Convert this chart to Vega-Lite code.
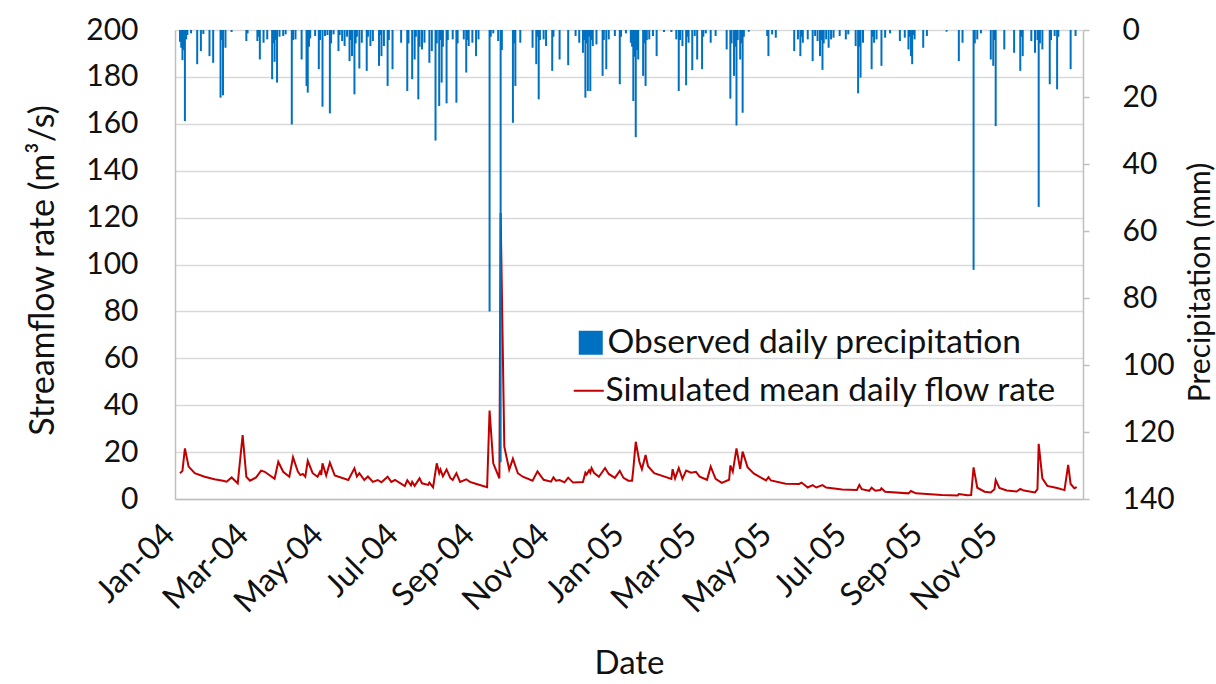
{
  "$schema": "https://vega.github.io/schema/vega-lite/v6.json",
  "width": 908,
  "height": 469,
  "autosize": {"type": "none"},
  "padding": {"left": 175, "top": 30, "right": 133, "bottom": 185},
  "background": "white",
  "config": {
    "font": "Lato",
    "view": {"stroke": null},
    "axis": {
      "labelFont": "Lato",
      "titleFont": "Lato",
      "labelFontSize": 30,
      "titleFontSize": 33,
      "labelColor": "#111111",
      "titleColor": "#111111",
      "titleFontWeight": "normal",
      "domainColor": "#bfbfbf",
      "domainWidth": 1.5,
      "tickColor": "#bfbfbf",
      "gridColor": "#d9d9d9",
      "gridWidth": 1.5
    },
    "legend": {
      "labelFont": "Lato",
      "labelFontSize": 33.5,
      "labelColor": "#111111",
      "padding": 0,
      "labelLimit": 700
    }
  },
  "datasets": {
    "flow": [
      {"date": "2004-01-01", "flow": 11}, {"date": "2004-01-03", "flow": 12}, {"date": "2004-01-05", "flow": 21.6},
      {"date": "2004-01-08", "flow": 13.8}, {"date": "2004-01-13", "flow": 11}, {"date": "2004-01-21", "flow": 9.5},
      {"date": "2004-01-29", "flow": 8.4}, {"date": "2004-02-05", "flow": 7.8}, {"date": "2004-02-08", "flow": 7.4},
      {"date": "2004-02-12", "flow": 9.2}, {"date": "2004-02-17", "flow": 6.7}, {"date": "2004-02-21", "flow": 27.3},
      {"date": "2004-02-24", "flow": 9.5}, {"date": "2004-02-27", "flow": 7.8}, {"date": "2004-03-03", "flow": 9.2},
      {"date": "2004-03-07", "flow": 12.1}, {"date": "2004-03-10", "flow": 11.6}, {"date": "2004-03-18", "flow": 8.6},
      {"date": "2004-03-21", "flow": 15.9}, {"date": "2004-03-25", "flow": 11.6}, {"date": "2004-03-30", "flow": 9.5},
      {"date": "2004-04-02", "flow": 17.8}, {"date": "2004-04-06", "flow": 11.6}, {"date": "2004-04-08", "flow": 10.2},
      {"date": "2004-04-10", "flow": 10.7}, {"date": "2004-04-12", "flow": 9.5}, {"date": "2004-04-14", "flow": 16.3},
      {"date": "2004-04-18", "flow": 11}, {"date": "2004-04-22", "flow": 9.5}, {"date": "2004-04-24", "flow": 11.6},
      {"date": "2004-04-25", "flow": 10.3}, {"date": "2004-04-26", "flow": 15.2}, {"date": "2004-04-29", "flow": 10},
      {"date": "2004-05-02", "flow": 15.5}, {"date": "2004-05-06", "flow": 10}, {"date": "2004-05-17", "flow": 8.1},
      {"date": "2004-05-22", "flow": 13.1}, {"date": "2004-05-24", "flow": 9.6}, {"date": "2004-05-26", "flow": 11},
      {"date": "2004-05-30", "flow": 8.1}, {"date": "2004-06-02", "flow": 9.6}, {"date": "2004-06-06", "flow": 7.3},
      {"date": "2004-06-10", "flow": 8.1}, {"date": "2004-06-13", "flow": 7.1}, {"date": "2004-06-18", "flow": 9.5},
      {"date": "2004-06-21", "flow": 7.3}, {"date": "2004-06-24", "flow": 8.1}, {"date": "2004-07-02", "flow": 5.5},
      {"date": "2004-07-04", "flow": 8}, {"date": "2004-07-07", "flow": 5.8}, {"date": "2004-07-08", "flow": 7.3},
      {"date": "2004-07-10", "flow": 5.6}, {"date": "2004-07-14", "flow": 8.8}, {"date": "2004-07-16", "flow": 6.7},
      {"date": "2004-07-21", "flow": 6}, {"date": "2004-07-22", "flow": 7}, {"date": "2004-07-25", "flow": 5},
      {"date": "2004-07-28", "flow": 15.2}, {"date": "2004-07-30", "flow": 11}, {"date": "2004-07-31", "flow": 12.6},
      {"date": "2004-08-02", "flow": 9.7}, {"date": "2004-08-05", "flow": 12.6}, {"date": "2004-08-08", "flow": 9},
      {"date": "2004-08-10", "flow": 8.1}, {"date": "2004-08-13", "flow": 11}, {"date": "2004-08-16", "flow": 7.3},
      {"date": "2004-08-21", "flow": 8.4}, {"date": "2004-08-24", "flow": 7.3}, {"date": "2004-08-30", "flow": 6.3},
      {"date": "2004-09-07", "flow": 5}, {"date": "2004-09-09", "flow": 37.7}, {"date": "2004-09-12", "flow": 15.2},
      {"date": "2004-09-17", "flow": 8.8}, {"date": "2004-09-18", "flow": 122}, {"date": "2004-09-21", "flow": 22.3},
      {"date": "2004-09-25", "flow": 12.5}, {"date": "2004-09-28", "flow": 17.2}, {"date": "2004-10-02", "flow": 11},
      {"date": "2004-10-06", "flow": 9.5}, {"date": "2004-10-14", "flow": 7.8}, {"date": "2004-10-18", "flow": 11.8},
      {"date": "2004-10-23", "flow": 8.2}, {"date": "2004-10-29", "flow": 7.4}, {"date": "2004-10-31", "flow": 9.2},
      {"date": "2004-11-02", "flow": 7.8}, {"date": "2004-11-05", "flow": 8.1}, {"date": "2004-11-09", "flow": 7.1},
      {"date": "2004-11-12", "flow": 9.1}, {"date": "2004-11-16", "flow": 7}, {"date": "2004-11-24", "flow": 7.2},
      {"date": "2004-11-26", "flow": 11.2}, {"date": "2004-11-27", "flow": 10.4}, {"date": "2004-11-29", "flow": 12.2},
      {"date": "2004-11-30", "flow": 11.2}, {"date": "2004-12-01", "flow": 13.2}, {"date": "2004-12-03", "flow": 11.2},
      {"date": "2004-12-07", "flow": 9.5}, {"date": "2004-12-12", "flow": 13.2}, {"date": "2004-12-15", "flow": 10.7},
      {"date": "2004-12-20", "flow": 9}, {"date": "2004-12-24", "flow": 12}, {"date": "2004-12-27", "flow": 9},
      {"date": "2004-12-31", "flow": 7.8}, {"date": "2005-01-03", "flow": 7.8}, {"date": "2005-01-04", "flow": 12.7},
      {"date": "2005-01-06", "flow": 24.4}, {"date": "2005-01-09", "flow": 15.8}, {"date": "2005-01-11", "flow": 12.7},
      {"date": "2005-01-14", "flow": 18.8}, {"date": "2005-01-16", "flow": 14}, {"date": "2005-01-21", "flow": 11},
      {"date": "2005-02-04", "flow": 8.6}, {"date": "2005-02-05", "flow": 12.7}, {"date": "2005-02-07", "flow": 8.8},
      {"date": "2005-02-10", "flow": 13.2}, {"date": "2005-02-13", "flow": 8.6}, {"date": "2005-02-16", "flow": 12.1},
      {"date": "2005-02-20", "flow": 11.2}, {"date": "2005-02-24", "flow": 11.6}, {"date": "2005-02-27", "flow": 9.5},
      {"date": "2005-03-05", "flow": 8.2}, {"date": "2005-03-08", "flow": 13.8}, {"date": "2005-03-12", "flow": 8.6},
      {"date": "2005-03-17", "flow": 6.9}, {"date": "2005-03-23", "flow": 8.2}, {"date": "2005-03-24", "flow": 14.3},
      {"date": "2005-03-26", "flow": 11.6}, {"date": "2005-03-29", "flow": 21.6}, {"date": "2005-04-01", "flow": 12.8},
      {"date": "2005-04-03", "flow": 20.2}, {"date": "2005-04-07", "flow": 13.6}, {"date": "2005-04-12", "flow": 10.9},
      {"date": "2005-04-22", "flow": 7.9}, {"date": "2005-04-24", "flow": 9.3}, {"date": "2005-04-26", "flow": 7.9},
      {"date": "2005-05-08", "flow": 6.5}, {"date": "2005-05-19", "flow": 6.4}, {"date": "2005-05-21", "flow": 7},
      {"date": "2005-05-26", "flow": 4.9}, {"date": "2005-05-30", "flow": 5.9}, {"date": "2005-06-02", "flow": 4.9},
      {"date": "2005-06-07", "flow": 5.9}, {"date": "2005-06-10", "flow": 4.9}, {"date": "2005-06-23", "flow": 4.1},
      {"date": "2005-07-05", "flow": 3.8}, {"date": "2005-07-07", "flow": 6}, {"date": "2005-07-09", "flow": 4.2},
      {"date": "2005-07-15", "flow": 3.5}, {"date": "2005-07-17", "flow": 4.8}, {"date": "2005-07-20", "flow": 3.5},
      {"date": "2005-07-24", "flow": 3.8}, {"date": "2005-07-25", "flow": 4.6}, {"date": "2005-07-28", "flow": 3.1},
      {"date": "2005-08-16", "flow": 2.4}, {"date": "2005-08-18", "flow": 3.4}, {"date": "2005-08-22", "flow": 2.4},
      {"date": "2005-09-12", "flow": 1.7}, {"date": "2005-09-25", "flow": 1.5}, {"date": "2005-09-26", "flow": 2.1},
      {"date": "2005-10-03", "flow": 1.6}, {"date": "2005-10-06", "flow": 1.7}, {"date": "2005-10-08", "flow": 13.5},
      {"date": "2005-10-11", "flow": 4.8}, {"date": "2005-10-17", "flow": 3.1}, {"date": "2005-10-22", "flow": 2.8},
      {"date": "2005-10-25", "flow": 4.2}, {"date": "2005-10-26", "flow": 8.1}, {"date": "2005-10-29", "flow": 4.7},
      {"date": "2005-11-04", "flow": 3.6}, {"date": "2005-11-12", "flow": 3.2}, {"date": "2005-11-15", "flow": 4.3},
      {"date": "2005-11-18", "flow": 3.6}, {"date": "2005-11-27", "flow": 2.8}, {"date": "2005-11-29", "flow": 4.2},
      {"date": "2005-11-30", "flow": 23.5}, {"date": "2005-12-03", "flow": 8.8}, {"date": "2005-12-07", "flow": 5.6},
      {"date": "2005-12-15", "flow": 4.7}, {"date": "2005-12-21", "flow": 3.8}, {"date": "2005-12-24", "flow": 14.5},
      {"date": "2005-12-26", "flow": 6.4}, {"date": "2005-12-29", "flow": 4.6}, {"date": "2005-12-31", "flow": 5.1}
    ],
    "precip": [
      {"date": "2004-01-01", "precip": 3.5}, {"date": "2004-01-02", "precip": 5.3}, {"date": "2004-01-03", "precip": 9},
      {"date": "2004-01-04", "precip": 6}, {"date": "2004-01-05", "precip": 27.2}, {"date": "2004-01-06", "precip": 2.8},
      {"date": "2004-01-07", "precip": 1.5}, {"date": "2004-01-10", "precip": 1}, {"date": "2004-01-15", "precip": 10.2},
      {"date": "2004-01-18", "precip": 6.3}, {"date": "2004-01-20", "precip": 1.2}, {"date": "2004-01-25", "precip": 7.8},
      {"date": "2004-01-28", "precip": 9.8}, {"date": "2004-02-03", "precip": 20.2}, {"date": "2004-02-04", "precip": 3},
      {"date": "2004-02-05", "precip": 19.5}, {"date": "2004-02-07", "precip": 5.3}, {"date": "2004-02-12", "precip": 0.6},
      {"date": "2004-02-24", "precip": 3.3}, {"date": "2004-02-25", "precip": 1}, {"date": "2004-03-04", "precip": 3.3},
      {"date": "2004-03-05", "precip": 2}, {"date": "2004-03-06", "precip": 8.8}, {"date": "2004-03-09", "precip": 3.8},
      {"date": "2004-03-12", "precip": 2.8}, {"date": "2004-03-16", "precip": 14.7}, {"date": "2004-03-17", "precip": 4},
      {"date": "2004-03-18", "precip": 9.5}, {"date": "2004-03-19", "precip": 3}, {"date": "2004-03-20", "precip": 15.7},
      {"date": "2004-03-22", "precip": 2}, {"date": "2004-03-25", "precip": 1.8}, {"date": "2004-03-27", "precip": 1.3},
      {"date": "2004-04-01", "precip": 28.2}, {"date": "2004-04-02", "precip": 3}, {"date": "2004-04-04", "precip": 2.8},
      {"date": "2004-04-09", "precip": 8.8}, {"date": "2004-04-13", "precip": 16.7}, {"date": "2004-04-14", "precip": 18.7},
      {"date": "2004-04-15", "precip": 5}, {"date": "2004-04-16", "precip": 2.5}, {"date": "2004-04-20", "precip": 1.8},
      {"date": "2004-04-23", "precip": 11.7}, {"date": "2004-04-24", "precip": 3}, {"date": "2004-04-26", "precip": 22.9},
      {"date": "2004-04-28", "precip": 1.8}, {"date": "2004-04-30", "precip": 1.5}, {"date": "2004-05-02", "precip": 24.9},
      {"date": "2004-05-03", "precip": 4}, {"date": "2004-05-05", "precip": 1.3}, {"date": "2004-05-09", "precip": 6.3},
      {"date": "2004-05-10", "precip": 1.5}, {"date": "2004-05-12", "precip": 3.3}, {"date": "2004-05-14", "precip": 4.8},
      {"date": "2004-05-16", "precip": 2}, {"date": "2004-05-18", "precip": 9.3}, {"date": "2004-05-19", "precip": 3},
      {"date": "2004-05-20", "precip": 7.8}, {"date": "2004-05-22", "precip": 19.2}, {"date": "2004-05-23", "precip": 4},
      {"date": "2004-05-24", "precip": 2}, {"date": "2004-05-26", "precip": 11.5}, {"date": "2004-05-28", "precip": 3.8},
      {"date": "2004-06-01", "precip": 12.2}, {"date": "2004-06-02", "precip": 2}, {"date": "2004-06-04", "precip": 4.8},
      {"date": "2004-06-06", "precip": 3.3}, {"date": "2004-06-11", "precip": 10.7}, {"date": "2004-06-12", "precip": 1.5},
      {"date": "2004-06-13", "precip": 7.8}, {"date": "2004-06-15", "precip": 4.8}, {"date": "2004-06-18", "precip": 16.7},
      {"date": "2004-06-19", "precip": 3}, {"date": "2004-06-22", "precip": 11.7}, {"date": "2004-06-29", "precip": 3.8},
      {"date": "2004-07-04", "precip": 18.2}, {"date": "2004-07-05", "precip": 4}, {"date": "2004-07-08", "precip": 14.7},
      {"date": "2004-07-10", "precip": 8.8}, {"date": "2004-07-11", "precip": 2}, {"date": "2004-07-13", "precip": 20.7},
      {"date": "2004-07-14", "precip": 5}, {"date": "2004-07-16", "precip": 5.8}, {"date": "2004-07-18", "precip": 3.8},
      {"date": "2004-07-22", "precip": 9.8}, {"date": "2004-07-24", "precip": 6.3}, {"date": "2004-07-27", "precip": 33},
      {"date": "2004-07-28", "precip": 4}, {"date": "2004-07-30", "precip": 22.7}, {"date": "2004-07-31", "precip": 3},
      {"date": "2004-08-01", "precip": 15.7}, {"date": "2004-08-02", "precip": 5}, {"date": "2004-08-05", "precip": 21.9},
      {"date": "2004-08-06", "precip": 3}, {"date": "2004-08-10", "precip": 2.8}, {"date": "2004-08-13", "precip": 21.7},
      {"date": "2004-08-14", "precip": 4}, {"date": "2004-08-19", "precip": 2.8}, {"date": "2004-08-21", "precip": 12.7},
      {"date": "2004-08-22", "precip": 3}, {"date": "2004-08-23", "precip": 4.8}, {"date": "2004-08-26", "precip": 3.8},
      {"date": "2004-08-29", "precip": 7.8}, {"date": "2004-08-31", "precip": 2.8}, {"date": "2004-09-09", "precip": 84},
      {"date": "2004-09-10", "precip": 2}, {"date": "2004-09-12", "precip": 1}, {"date": "2004-09-16", "precip": 3.3},
      {"date": "2004-09-18", "precip": 129}, {"date": "2004-09-19", "precip": 6}, {"date": "2004-09-28", "precip": 27.7},
      {"date": "2004-09-29", "precip": 4}, {"date": "2004-09-30", "precip": 16.7}, {"date": "2004-10-04", "precip": 3.8},
      {"date": "2004-10-14", "precip": 5.3}, {"date": "2004-10-17", "precip": 10.2}, {"date": "2004-10-18", "precip": 2},
      {"date": "2004-10-19", "precip": 20.7}, {"date": "2004-10-20", "precip": 3}, {"date": "2004-10-23", "precip": 2.8},
      {"date": "2004-10-25", "precip": 4.8}, {"date": "2004-10-30", "precip": 12.2}, {"date": "2004-10-31", "precip": 2},
      {"date": "2004-11-05", "precip": 8.8}, {"date": "2004-11-12", "precip": 10.5}, {"date": "2004-11-18", "precip": 1.8},
      {"date": "2004-11-21", "precip": 3.8}, {"date": "2004-11-24", "precip": 6.8}, {"date": "2004-11-25", "precip": 3},
      {"date": "2004-11-26", "precip": 20.2}, {"date": "2004-11-27", "precip": 4}, {"date": "2004-11-28", "precip": 18.2},
      {"date": "2004-11-29", "precip": 2}, {"date": "2004-11-30", "precip": 18.2}, {"date": "2004-12-01", "precip": 3},
      {"date": "2004-12-02", "precip": 4.8}, {"date": "2004-12-05", "precip": 4.3}, {"date": "2004-12-10", "precip": 13.7},
      {"date": "2004-12-11", "precip": 3}, {"date": "2004-12-13", "precip": 11.7}, {"date": "2004-12-15", "precip": 2.8},
      {"date": "2004-12-20", "precip": 1.8}, {"date": "2004-12-24", "precip": 16.2}, {"date": "2004-12-25", "precip": 2},
      {"date": "2004-12-29", "precip": 1},
      {"date": "2005-01-02", "precip": 3.8}, {"date": "2005-01-03", "precip": 5}, {"date": "2005-01-04", "precip": 21.2},
      {"date": "2005-01-05", "precip": 8}, {"date": "2005-01-06", "precip": 32}, {"date": "2005-01-07", "precip": 6},
      {"date": "2005-01-08", "precip": 8.8}, {"date": "2005-01-12", "precip": 13.7}, {"date": "2005-01-13", "precip": 4},
      {"date": "2005-01-14", "precip": 16.7}, {"date": "2005-01-15", "precip": 3}, {"date": "2005-01-17", "precip": 2.8},
      {"date": "2005-01-20", "precip": 1.8}, {"date": "2005-01-23", "precip": 7.8}, {"date": "2005-01-29", "precip": 0.6},
      {"date": "2005-02-04", "precip": 0.6}, {"date": "2005-02-08", "precip": 2.8}, {"date": "2005-02-10", "precip": 18.2},
      {"date": "2005-02-11", "precip": 3}, {"date": "2005-02-13", "precip": 4.8}, {"date": "2005-02-16", "precip": 16.5},
      {"date": "2005-02-17", "precip": 2}, {"date": "2005-02-18", "precip": 3.8}, {"date": "2005-02-21", "precip": 12},
      {"date": "2005-02-23", "precip": 1.8}, {"date": "2005-02-25", "precip": 8.8}, {"date": "2005-03-01", "precip": 11.7},
      {"date": "2005-03-02", "precip": 2}, {"date": "2005-03-04", "precip": 1}, {"date": "2005-03-08", "precip": 3.8},
      {"date": "2005-03-12", "precip": 1.8}, {"date": "2005-03-21", "precip": 5.8}, {"date": "2005-03-24", "precip": 20.5},
      {"date": "2005-03-25", "precip": 4}, {"date": "2005-03-27", "precip": 13.7}, {"date": "2005-03-28", "precip": 5},
      {"date": "2005-03-29", "precip": 28.5}, {"date": "2005-03-30", "precip": 3}, {"date": "2005-04-01", "precip": 8.8},
      {"date": "2005-04-02", "precip": 4}, {"date": "2005-04-03", "precip": 24.7}, {"date": "2005-04-04", "precip": 2},
      {"date": "2005-04-08", "precip": 0.5}, {"date": "2005-04-23", "precip": 1.8}, {"date": "2005-04-24", "precip": 7.8},
      {"date": "2005-04-27", "precip": 1.3}, {"date": "2005-04-30", "precip": 2.3}, {"date": "2005-05-15", "precip": 6.3},
      {"date": "2005-05-18", "precip": 2.8}, {"date": "2005-05-20", "precip": 7.8}, {"date": "2005-05-21", "precip": 2},
      {"date": "2005-05-22", "precip": 3.8}, {"date": "2005-05-26", "precip": 2.8}, {"date": "2005-05-30", "precip": 9.3},
      {"date": "2005-06-01", "precip": 1.8}, {"date": "2005-06-03", "precip": 3.3}, {"date": "2005-06-05", "precip": 7.8},
      {"date": "2005-06-06", "precip": 3}, {"date": "2005-06-07", "precip": 11.9}, {"date": "2005-06-08", "precip": 4},
      {"date": "2005-06-10", "precip": 2.8}, {"date": "2005-06-12", "precip": 5.3}, {"date": "2005-06-14", "precip": 2.8},
      {"date": "2005-06-16", "precip": 2.3}, {"date": "2005-06-21", "precip": 1.8}, {"date": "2005-06-26", "precip": 2.8},
      {"date": "2005-06-28", "precip": 1.3}, {"date": "2005-07-04", "precip": 4.8}, {"date": "2005-07-06", "precip": 18.9},
      {"date": "2005-07-07", "precip": 5}, {"date": "2005-07-08", "precip": 14.2}, {"date": "2005-07-10", "precip": 3.8},
      {"date": "2005-07-17", "precip": 11.7}, {"date": "2005-07-18", "precip": 2}, {"date": "2005-07-19", "precip": 3.8},
      {"date": "2005-07-21", "precip": 2.8}, {"date": "2005-07-25", "precip": 10.7}, {"date": "2005-07-28", "precip": 2.3},
      {"date": "2005-08-01", "precip": 1}, {"date": "2005-08-09", "precip": 3.3}, {"date": "2005-08-13", "precip": 2.3},
      {"date": "2005-08-16", "precip": 5.8}, {"date": "2005-08-17", "precip": 2}, {"date": "2005-08-18", "precip": 7.8},
      {"date": "2005-08-19", "precip": 10.2}, {"date": "2005-08-20", "precip": 1.5}, {"date": "2005-08-21", "precip": 2.8},
      {"date": "2005-08-28", "precip": 5.3}, {"date": "2005-08-31", "precip": 1.8}, {"date": "2005-09-16", "precip": 0.5},
      {"date": "2005-09-26", "precip": 9.3}, {"date": "2005-09-29", "precip": 3.8}, {"date": "2005-10-08", "precip": 71.6},
      {"date": "2005-10-09", "precip": 4}, {"date": "2005-10-11", "precip": 2.8}, {"date": "2005-10-14", "precip": 1},
      {"date": "2005-10-22", "precip": 8.8}, {"date": "2005-10-24", "precip": 10.7}, {"date": "2005-10-25", "precip": 3},
      {"date": "2005-10-26", "precip": 28.7}, {"date": "2005-11-02", "precip": 5.8}, {"date": "2005-11-10", "precip": 6.8},
      {"date": "2005-11-15", "precip": 12.2}, {"date": "2005-11-16", "precip": 2}, {"date": "2005-11-17", "precip": 7.8},
      {"date": "2005-11-24", "precip": 3.3}, {"date": "2005-11-27", "precip": 6.8}, {"date": "2005-11-29", "precip": 3},
      {"date": "2005-11-30", "precip": 52.8}, {"date": "2005-12-01", "precip": 4}, {"date": "2005-12-03", "precip": 5.8},
      {"date": "2005-12-09", "precip": 16.2}, {"date": "2005-12-10", "precip": 3}, {"date": "2005-12-13", "precip": 1.8},
      {"date": "2005-12-15", "precip": 17.7}, {"date": "2005-12-16", "precip": 2}, {"date": "2005-12-26", "precip": 11.7},
      {"date": "2005-12-30", "precip": 1.8}
    ]
  },
  "layer": [
    {
      "data": {"name": "flow"},
      "mark": {"type": "line", "strokeWidth": 2, "interpolate": "linear"},
      "encoding": {
        "x": {
          "field": "date", "type": "temporal",
          "scale": {"type": "utc", "domain": [{"year": 2004, "month": 1, "date": 1, "utc": true}, {"year": 2006, "month": 1, "date": 1, "utc": true}]},
          "axis": {
            "title": "Date",
            "values": [
              {"year": 2004, "month": 1, "date": 1, "utc": true}, {"year": 2004, "month": 3, "date": 1, "utc": true},
              {"year": 2004, "month": 5, "date": 1, "utc": true}, {"year": 2004, "month": 7, "date": 1, "utc": true},
              {"year": 2004, "month": 9, "date": 1, "utc": true}, {"year": 2004, "month": 11, "date": 1, "utc": true},
              {"year": 2005, "month": 1, "date": 1, "utc": true}, {"year": 2005, "month": 3, "date": 1, "utc": true},
              {"year": 2005, "month": 5, "date": 1, "utc": true}, {"year": 2005, "month": 7, "date": 1, "utc": true},
              {"year": 2005, "month": 9, "date": 1, "utc": true}, {"year": 2005, "month": 11, "date": 1, "utc": true}
            ],
            "labelExpr": "utcFormat(datum.value, '%b-%y')",
            "labelFontSize": 32,
            "labelAngle": -45, "labelAlign": "right", "labelBaseline": "middle",
            "labelPadding": 30, "labelOffset": -11, "ticks": false, "grid": false,
            "labelOverlap": false, "labelFlush": false, "labelBound": false,
            "titleX": 454, "titleY": 174, "titleBaseline": "alphabetic", "titleAlign": "center"
          }
        },
        "y": {
          "field": "flow", "type": "quantitative",
          "scale": {"domain": [0, 200], "nice": false, "zero": true},
          "axis": {
            "orient": "left", "title": "Streamflow rate (m³/s)",
            "values": [0, 20, 40, 60, 80, 100, 120, 140, 160, 180, 200],
            "grid": true, "ticks": false, "labelPadding": 37,
            "titleFontSize": 34,
            "titleX": -132, "titleY": 240, "titleAngle": 270, "titleBaseline": "middle", "titleAlign": "center"
          }
        },
        "stroke": {
          "datum": "Simulated mean daily flow rate", "type": "nominal",
          "scale": {"range": ["#C00000"]},
          "legend": {"orient": "none", "legendX": 397, "legendY": 344, "title": null, "symbolType": "stroke", "symbolSize": 900, "symbolStrokeWidth": 2, "labelOffset": 0}
        }
      }
    },
    {
      "data": {"name": "precip"},
      "mark": {"type": "bar", "width": 2},
      "encoding": {
        "x": {
          "field": "date", "type": "temporal",
          "scale": {"type": "utc", "domain": [{"year": 2004, "month": 1, "date": 1, "utc": true}, {"year": 2006, "month": 1, "date": 1, "utc": true}]},
          "axis": {
            "title": "Date",
            "values": [
              {"year": 2004, "month": 1, "date": 1, "utc": true}, {"year": 2004, "month": 3, "date": 1, "utc": true},
              {"year": 2004, "month": 5, "date": 1, "utc": true}, {"year": 2004, "month": 7, "date": 1, "utc": true},
              {"year": 2004, "month": 9, "date": 1, "utc": true}, {"year": 2004, "month": 11, "date": 1, "utc": true},
              {"year": 2005, "month": 1, "date": 1, "utc": true}, {"year": 2005, "month": 3, "date": 1, "utc": true},
              {"year": 2005, "month": 5, "date": 1, "utc": true}, {"year": 2005, "month": 7, "date": 1, "utc": true},
              {"year": 2005, "month": 9, "date": 1, "utc": true}, {"year": 2005, "month": 11, "date": 1, "utc": true}
            ],
            "labelExpr": "utcFormat(datum.value, '%b-%y')",
            "labelFontSize": 32,
            "labelAngle": -45, "labelAlign": "right", "labelBaseline": "middle",
            "labelPadding": 30, "labelOffset": -11, "ticks": false, "grid": false,
            "labelOverlap": false, "labelFlush": false, "labelBound": false,
            "titleX": 454, "titleY": 174, "titleBaseline": "alphabetic", "titleAlign": "center"
          }
        },
        "y": {
          "field": "precip", "type": "quantitative",
          "scale": {"domain": [0, 140], "reverse": true, "nice": false},
          "axis": {
            "orient": "right", "title": "Precipitation (mm)",
            "values": [0, 20, 40, 60, 80, 100, 120, 140],
            "grid": false, "ticks": true, "tickSize": 6, "tickWidth": 1.5, "labelPadding": 33,
            "titleFontSize": 30,
            "titleX": 117, "titleY": 252, "titleAngle": 270, "titleBaseline": "middle", "titleAlign": "center"
          }
        },
        "fill": {
          "datum": "Observed daily precipitation", "type": "nominal",
          "scale": {"range": ["#0070C0"]},
          "legend": {"orient": "none", "legendX": 399, "legendY": 296, "title": null, "symbolType": "square", "symbolSize": 576, "symbolStrokeWidth": 0, "labelOffset": 0}
        }
      }
    }
  ],
  "resolve": {"scale": {"y": "independent", "fill": "independent", "stroke": "independent"}, "axis": {"y": "independent"}}
}
